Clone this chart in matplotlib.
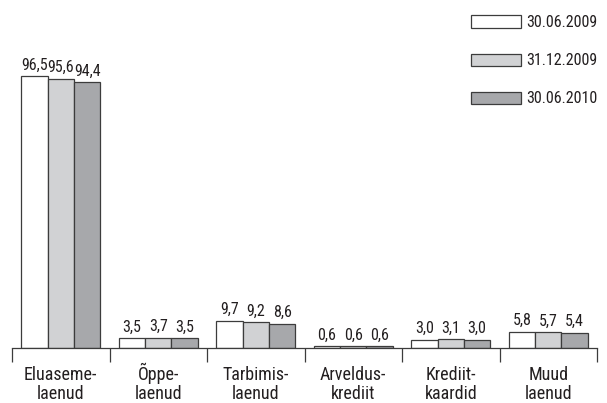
import matplotlib
matplotlib.use("Agg")
import matplotlib.pyplot as plt
import numpy as np
from matplotlib import font_manager

categories = ["Eluaseme-\nlaenud", "Õppe-\nlaenud", "Tarbimis-\nlaenud",
              "Arveldus-\nkrediit", "Krediit-\nkaardid", "Muud\nlaenud"]
series_names = ["30.06.2009", "31.12.2009", "30.06.2010"]
v_2009_06 = [96.5, 3.5, 9.7, 0.6, 3.0, 5.8]
v_2009_12 = [95.6, 3.7, 9.2, 0.6, 3.1, 5.7]
v_2010_06 = [94.4, 3.5, 8.6, 0.6, 3.0, 5.4]
series = [v_2009_06, v_2009_12, v_2010_06]
colors = ["#ffffff", "#d1d2d4", "#a7a8ab"]

names = {f.name for f in font_manager.fontManager.ttflist}
fam = "Roboto"
for cand in ["Roboto Condensed", "Liberation Sans Narrow", "Open Sans Condensed"]:
    if cand in names:
        fam = cand
        break
plt.rcParams["font.family"] = [fam, "DejaVu Sans"]
txt = "#231f20"

fig = plt.figure(figsize=(6.07, 4.03), dpi=100)
ax = fig.add_axes([12/607, 55/403, 585/607, 310/403])
x = np.arange(len(categories))
w = 0.27
for i, (vals, c, name) in enumerate(zip(series, colors, series_names)):
    bars = ax.bar(x + (i - 1) * w, vals, width=w, color=c, edgecolor="#3c3c3c",
                  linewidth=0.9, label=name)
    for b, v in zip(bars, vals):
        ax.annotate(f"{v:.1f}".replace(".", ","), (b.get_x() + b.get_width()/2, v),
                    xytext=(0, 2.5), textcoords="offset points", ha="center",
                    va="bottom", fontsize=11.5, color=txt)

ax.set_xlim(-0.5, len(categories) - 0.5)
ax.set_ylim(0, 110)
for s in ["top", "right", "left"]:
    ax.spines[s].set_visible(False)
ax.spines["bottom"].set_color("#3c3c3c")
ax.spines["bottom"].set_linewidth(0.9)
ax.set_yticks([])
ax.set_xticks([])
ax.set_xticks(np.arange(-0.5, len(categories)), minor=True)
ax.tick_params(axis="x", which="minor", length=10, width=0.9, color="#3c3c3c",
               direction="out", labelbottom=False)

for xi, lab in zip(x, categories):
    ax.annotate(lab, (xi, 0), xytext=(0, -51), textcoords="offset pixels",
                ha="center", va="baseline", fontsize=13, color=txt,
                linespacing=1.1, annotation_clip=False)

leg = fig.legend(loc="upper left", bbox_to_anchor=(471/607, 1 - 15/403),
                 frameon=False, fontsize=11.5, handlelength=3.1, handleheight=0.8,
                 handletextpad=0.35, labelspacing=1.45, borderpad=0,
                 borderaxespad=0)
for t in leg.get_texts():
    t.set_color(txt)

fig.savefig("out.png", dpi=100)
